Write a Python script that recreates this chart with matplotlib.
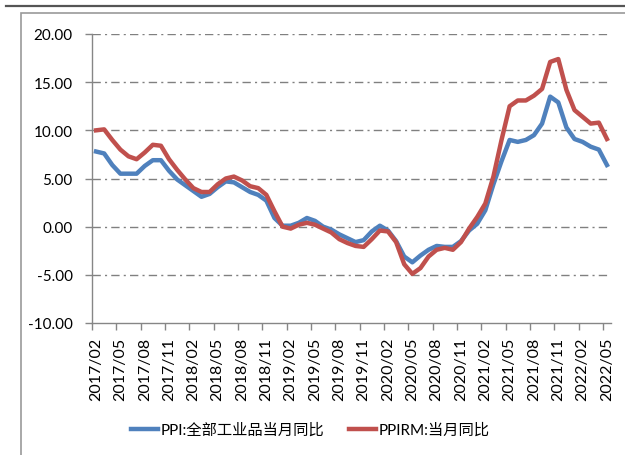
import matplotlib.pyplot as plt
import matplotlib.patches as mpatches
import matplotlib.lines as mlines
import numpy as np
import pandas as pd

plt.rcParams['font.family'] = ['Lato', 'Noto Sans CJK SC', 'DejaVu Sans']

months = [p.strftime('%Y/%m') for p in pd.period_range('2017-02', '2022-05', freq='M')]

ppi = [7.8, 7.6, 6.4, 5.5, 5.5, 5.5, 6.3, 6.9, 6.9, 5.8, 4.9,
       4.3, 3.7, 3.1, 3.4, 4.1, 4.7, 4.6, 4.1, 3.6, 3.3, 2.7, 0.9,
       0.1, 0.1, 0.4, 0.9, 0.6, 0.0, -0.3, -0.8, -1.2, -1.6, -1.4, -0.5,
       0.1, -0.4, -1.5, -3.1, -3.7, -3.0, -2.4, -2.0, -2.1, -2.1, -1.5, -0.4,
       0.3, 1.7, 4.4, 6.8, 9.0, 8.8, 9.0, 9.5, 10.7, 13.5, 12.9, 10.3,
       9.1, 8.8, 8.3, 8.0, 6.4]
ppirm = [10.0, 10.1, 9.0, 8.0, 7.3, 7.0, 7.7, 8.5, 8.4, 7.0, 5.9,
         4.9, 4.0, 3.6, 3.6, 4.4, 5.0, 5.2, 4.8, 4.2, 4.0, 3.3, 1.6,
         0.0, -0.2, 0.2, 0.4, 0.2, -0.2, -0.6, -1.3, -1.7, -2.0, -2.1, -1.3,
         -0.4, -0.5, -1.6, -3.9, -4.9, -4.3, -3.1, -2.4, -2.2, -2.4, -1.6, -0.2,
         1.0, 2.4, 5.2, 9.0, 12.5, 13.1, 13.1, 13.6, 14.3, 17.1, 17.4, 14.2,
         12.1, 11.4, 10.7, 10.8, 9.1]

blue = '#4F81BD'
red = '#C0504D'
gray = '#868686'

fig = plt.figure(figsize=(6.25, 4.56), dpi=100)
ax = fig.add_axes([92 / 625, 1 - 324 / 456, (611 - 92) / 625, (324 - 35) / 456])

# outer frame + top rule
fig.add_artist(mlines.Line2D([6 / 625, 1], [1 - 7 / 456] * 2, color='#555555', lw=1.6))
fig.add_artist(mpatches.Rectangle((21 / 625, -0.1), 1.1, 1 - 14 / 456 + 0.1,
                                  fill=False, edgecolor='#9a9a9a', lw=1.2))

x = np.arange(len(months)) + 0.5
ax.plot(x, ppi, color=blue, lw=3.2, label='PPI:全部工业品当月同比', solid_joinstyle='round')
ax.plot(x, ppirm, color=red, lw=3.2, label='PPIRM:当月同比', solid_joinstyle='round')

ax.set_xlim(0, len(months))
ax.set_ylim(-10, 20)
ax.set_yticks(np.arange(-10, 21, 5))
ax.set_yticklabels([f'{v:.2f}' for v in np.arange(-10, 21, 5)], fontsize=11)
ax.set_xticks(x[::3])
ax.set_xticklabels(months[::3], rotation=90, fontsize=11.5)
ax.set_xticks(np.arange(0, len(months), 3), minor=True)
ax.tick_params(axis='x', which='major', length=0, pad=10)
ax.tick_params(axis='x', which='minor', length=5, color=gray, width=1)
ax.tick_params(axis='y', length=5, color=gray, width=1, pad=9)

for v in range(-5, 21, 5):
    ax.axhline(v, color='#808080', lw=1, ls=(0, (6, 3, 1.5, 3)), zorder=0)

for s in ['top', 'right']:
    ax.spines[s].set_visible(False)
for s in ['left', 'bottom']:
    ax.spines[s].set_color(gray)
    ax.spines[s].set_linewidth(1)

fig.legend(loc='center', bbox_to_anchor=(0.496, 1 - 431 / 456), ncol=2, frameon=False,
           prop={'size': 11}, handlelength=1.8, handletextpad=0.15, columnspacing=1.6)

fig.savefig('out.png', dpi=100)
